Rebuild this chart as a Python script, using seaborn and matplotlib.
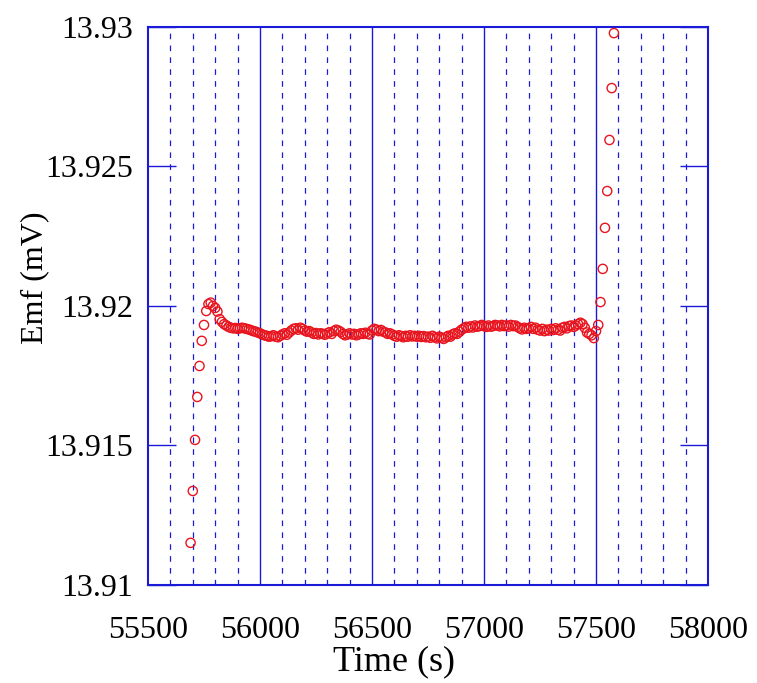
import numpy as np
import pandas as pd
import matplotlib
matplotlib.use("Agg")
import matplotlib.pyplot as plt
import seaborn as sns

# Sampling: one reading every 10 s
t_start = 55690
t_step = 10

# EMF readings (mV)
emf_rise = [13.91151, 13.91337, 13.91520, 13.91674, 13.91785, 13.91875, 13.91932, 13.91982,
            13.92007, 13.92012, 13.92000, 13.91993, 13.91980, 13.91953, 13.91943, 13.91935]
emf_settle = [13.91930, 13.91925, 13.91922, 13.91920, 13.91921, 13.91918, 13.91920, 13.91922,
              13.91920, 13.91918, 13.91916, 13.91913, 13.91910, 13.91908, 13.91905]
emf_plateau = [
    13.91902, 13.91898, 13.91895, 13.91893, 13.91890, 13.91892, 13.91895, 13.91890, 13.91888, 13.91893,
    13.91898, 13.91902, 13.91897, 13.91905, 13.91912, 13.91918, 13.91920, 13.91915, 13.91922, 13.91918,
    13.91912, 13.91908, 13.91910, 13.91905, 13.91900, 13.91903, 13.91898, 13.91902, 13.91900, 13.91897,
    13.91902, 13.91906, 13.91900, 13.91910, 13.91915, 13.91912, 13.91907, 13.91900, 13.91895, 13.91898,
    13.91902, 13.91898, 13.91900, 13.91895, 13.91898, 13.91902, 13.91900, 13.91904, 13.91900, 13.91898,
    13.91912, 13.91918, 13.91915, 13.91910, 13.91914, 13.91908, 13.91905, 13.91900, 13.91902, 13.91898,
    13.91893, 13.91890, 13.91895, 13.91892, 13.91888, 13.91893, 13.91890, 13.91895, 13.91891, 13.91893,
    13.91890, 13.91893, 13.91889, 13.91892, 13.91888, 13.91890, 13.91886, 13.91893, 13.91888, 13.91884,
    13.91890, 13.91886, 13.91882, 13.91888, 13.91893, 13.91890, 13.91898, 13.91902, 13.91900, 13.91908,
    13.91915, 13.91920, 13.91925, 13.91922, 13.91927, 13.91923, 13.91930, 13.91926, 13.91928, 13.91932,
    13.91928, 13.91925, 13.91930, 13.91926, 13.91928, 13.91932, 13.91930, 13.91927, 13.91932, 13.91928,
    13.91930, 13.91926, 13.91932, 13.91928, 13.91930, 13.91925, 13.91920, 13.91916, 13.91922, 13.91918,
    13.91920, 13.91925, 13.91918, 13.91922, 13.91915, 13.91912, 13.91918, 13.91910, 13.91915, 13.91912,
    13.91918, 13.91914, 13.91920, 13.91915, 13.91912, 13.91922, 13.91925, 13.91920, 13.91928, 13.91930,
    13.91925, 13.91930, 13.91935, 13.91940, 13.91935, 13.91922, 13.91905, 13.91900, 13.91895, 13.91885,
]
emf_jump = [13.91910, 13.91932, 13.92014, 13.92133, 13.92280, 13.92412, 13.92595, 13.92781, 13.92978]

emf = emf_rise + emf_settle + emf_plateau + emf_jump
time_s = t_start + t_step * np.arange(len(emf))
df = pd.DataFrame({"Time (s)": time_s, "Emf (mV)": emf})

x_ticks = [55500, 56000, 56500, 57000, 57500, 58000]
y_ticks = [13.91, 13.915, 13.92, 13.925, 13.93]
y_tick_labels = ["13.91", "13.915", "13.92", "13.925", "13.93"]

sns.set_theme(style="white")
plt.rcParams["font.family"] = ["Liberation Serif", "DejaVu Serif"]

blue = "#1a1ad8"

fig = plt.figure(figsize=(7.57, 6.83), dpi=100)
ax = fig.add_axes([0.1955, 0.1435, 0.7398, 0.817])

# minor (dashed) and major (solid) vertical grid lines
for xv in range(55600, 58000, 100):
    if xv % 500 == 0:
        ax.axvline(xv, color=blue, lw=1.0, zorder=1)
    else:
        ax.axvline(xv, color=blue, lw=0.9, ls=(0, (4.5, 5.0)), zorder=1)

sns.scatterplot(data=df, x="Time (s)", y="Emf (mV)", ax=ax, marker="o", s=44,
                facecolors="none", edgecolors="#e8141e", linewidth=1.0, zorder=3)

ax.set_xlim(55500, 58000)
ax.set_ylim(13.91, 13.93)
ax.set_xticks(x_ticks)
ax.set_xticklabels([str(v) for v in x_ticks])
ax.set_yticks(y_ticks)
ax.set_yticklabels(y_tick_labels)

ax.tick_params(axis="x", length=0, pad=22, labelsize=23, colors="black")
ax.tick_params(axis="y", direction="in", length=20, width=1.0, color=blue,
               left=True, right=True, pad=11, labelsize=23, labelcolor="black")

ax.set_xlabel("Time (s)", fontsize=26, color="black")
ax.set_ylabel("Emf (mV)", fontsize=23, color="black")
ax.xaxis.set_label_coords(0.44, -0.108)
ax.yaxis.set_label_coords(-0.177, 0.55)

for sp in ax.spines.values():
    sp.set_color(blue)
    sp.set_linewidth(1.5)
    sp.set_visible(True)

fig.savefig("out.png", dpi=100)
